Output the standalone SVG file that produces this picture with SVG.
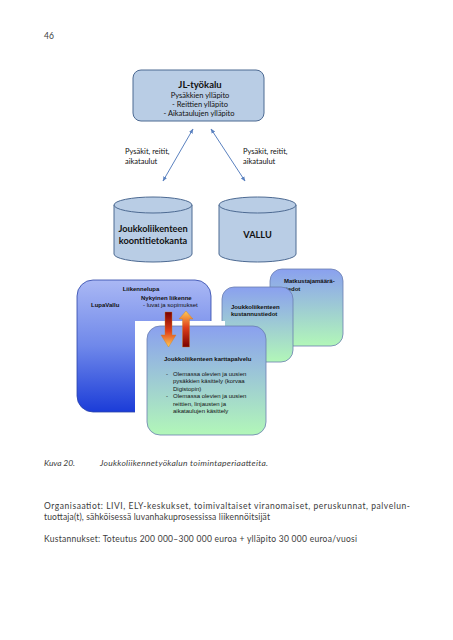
<svg xmlns="http://www.w3.org/2000/svg" width="453" height="640" viewBox="0 0 453 640">
<style>
.cal{font-family:Lato,"Open Sans","Liberation Sans",sans-serif;fill:#111}
.ar{font-family:"Liberation Sans",Arial,sans-serif;fill:#111;font-size:6px}
.b{font-weight:bold}
.pg{font-family:Lato,"Noto Sans",sans-serif;fill:#3c3c3c;font-size:8.5px}
.top{fill:#b9cde5;stroke:#4d6a92;stroke-width:1}
.conn{stroke:#5b82c0;stroke-width:1;fill:none;marker-start:url(#ah);marker-end:url(#ah)}
.gb{stroke:#6a7db0;stroke-width:0.8}
</style>
<defs>
<marker id="ah" viewBox="0 0 10 10" refX="9" refY="5" markerWidth="5" markerHeight="5" orient="auto-start-reverse">
<path d="M0,1 L10,5 L0,9 z" fill="#5b82c0"/>
</marker>
<linearGradient id="gBlue" x1="0" y1="0" x2="0" y2="1">
<stop offset="0" stop-color="#aab8f4"/>
<stop offset="0.5" stop-color="#6f88ea"/>
<stop offset="1" stop-color="#1b3cd8"/>
</linearGradient>
<linearGradient id="gGreen" x1="0" y1="0" x2="0" y2="1">
<stop offset="0" stop-color="#8aa0ef"/>
<stop offset="1" stop-color="#b2f7b8"/>
</linearGradient>
<linearGradient id="gDown" x1="0" y1="0" x2="0" y2="1">
<stop offset="0" stop-color="#7a0000"/>
<stop offset="0.55" stop-color="#e0401a"/>
<stop offset="1" stop-color="#ffcc55"/>
</linearGradient>
<linearGradient id="gUp" x1="0" y1="0" x2="0" y2="1">
<stop offset="0" stop-color="#ffcc55"/>
<stop offset="0.45" stop-color="#e0401a"/>
<stop offset="1" stop-color="#7a0000"/>
</linearGradient>
</defs>

<text class="pg" x="44" y="39">46</text>

<g id="connectors">
<line class="conn" x1="193" y1="129" x2="163" y2="181"/>
<line class="conn" x1="211" y1="129" x2="245" y2="181"/>
</g>

<g id="jl-tyokalu">
<rect class="top" x="133" y="70" width="131" height="51" rx="8"/>
<text class="cal b" x="200" y="87.5" font-size="9.5" text-anchor="middle">JL-työkalu</text>
<text class="cal" x="200" y="98" font-size="7.5" text-anchor="middle">Pysäkkien ylläpito</text>
<text class="cal" x="200" y="107" font-size="7.5" text-anchor="middle">-  Reittien ylläpito</text>
<text class="cal" x="199" y="116" font-size="7.5" text-anchor="middle">-  Aikataulujen ylläpito</text>
</g>

<g id="label-left">
<text class="cal" x="125" y="154" font-size="7.5">Pysäkit, reitit,</text>
<text class="cal" x="125" y="164" font-size="7.5">aikataulut</text>
</g>
<g id="label-right">
<text class="cal" x="243" y="154" font-size="7.5">Pysäkit, reitit,</text>
<text class="cal" x="243" y="164" font-size="7.5">aikataulut</text>
</g>

<g id="koontitietokanta">
<path class="top" d="M114,205 L114,254 A39,8 0 0 0 192,254 L192,205 Z"/>
<ellipse class="top" cx="153" cy="205" rx="39" ry="8"/>
<text class="cal b" x="153" y="232" font-size="9.2" text-anchor="middle">Joukkoliikenteen</text>
<text class="cal b" x="153" y="244" font-size="9.2" text-anchor="middle">koontitietokanta</text>
</g>

<g id="vallu">
<path class="top" d="M219,205 L219,254 A38.5,8 0 0 0 296,254 L296,205 Z"/>
<ellipse class="top" cx="257.5" cy="205" rx="38.5" ry="8"/>
<text class="cal b" x="257.5" y="238" font-size="9.2" text-anchor="middle">VALLU</text>
</g>

<g id="lupavallu">
<rect x="77" y="280" width="134" height="132" rx="16" fill="url(#gBlue)" stroke="#2b44a8" stroke-width="0.8"/>
<text class="ar b" x="141" y="291" text-anchor="middle">Liikennelupa</text>
<text class="ar b" x="141" y="300">Nykyinen liikenne</text>
<text class="ar" x="143" y="307">- luvat ja sopimukset</text>
<text class="ar b" x="91" y="307" font-size="7">LupaVallu</text>
</g>

<g id="matkustajamaara">
<rect class="gb" x="270" y="269" width="73" height="77" rx="12" fill="url(#gGreen)"/>
<text class="ar b" x="284" y="283">Matkustajamäärä-</text>
<text class="ar b" x="284" y="291">tiedot</text>
</g>

<g id="kustannustiedot">
<rect class="gb" x="222" y="287" width="71" height="75" rx="12" fill="url(#gGreen)"/>
<text class="ar b" x="231" y="308.5">Joukkoliikenteen</text>
<text class="ar b" x="231" y="315.5">kustannustiedot</text>
</g>

<rect x="135" y="321" width="90" height="95" fill="#ffffff"/>

<g id="karttapalvelu">
<rect class="gb" x="147" y="326" width="119" height="109" rx="13" fill="url(#gGreen)"/>
<text class="ar b" x="164" y="361">Joukkoliikenteen karttapalvelu</text>
<text class="ar" x="166" y="375.5">-</text>
<text class="ar" x="173" y="375.5">Olemassa olevien ja uusien</text>
<text class="ar" x="173" y="383">pysäkkien käsittely (korvaa</text>
<text class="ar" x="173" y="390.5">Digistopin)</text>
<text class="ar" x="166" y="398">-</text>
<text class="ar" x="173" y="398">Olemassa olevien ja uusien</text>
<text class="ar" x="173" y="405.5">reittien, linjausten ja</text>
<text class="ar" x="173" y="413">aikataulujen käsittely</text>
</g>

<g id="arrow-down">
<path d="M165,312 L172,312 L172,335 L176,335 L168.5,347 L161,335 L165,335 Z" fill="url(#gDown)" stroke="#c8801e" stroke-width="0.4"/>
</g>
<g id="arrow-up">
<path d="M186,311 L193,319 L189.5,319 L189.5,347 L182.5,347 L182.5,319 L179,319 Z" fill="url(#gUp)" stroke="#c8801e" stroke-width="0.4"/>
</g>

<g id="caption">
<text class="pg" x="44" y="466" font-style="italic" textLength="31">Kuva  20.</text>
<text class="pg" x="100" y="466" font-style="italic" textLength="168">Joukkoliikennetyökalun toimintaperiaatteita.</text>
</g>
<g id="body-text">
<text class="pg" x="44" y="509" textLength="366">Organisaatiot: LIVI, ELY-keskukset, toimivaltaiset viranomaiset, peruskunnat, palvelun-</text>
<text class="pg" x="44" y="520" textLength="226">tuottaja(t), sähköisessä luvanhakuprosessissa liikennöitsijät</text>
<text class="pg" x="44" y="542" textLength="313">Kustannukset: Toteutus 200 000–300 000 euroa + ylläpito 30 000 euroa/vuosi</text>
</g>
</svg>
